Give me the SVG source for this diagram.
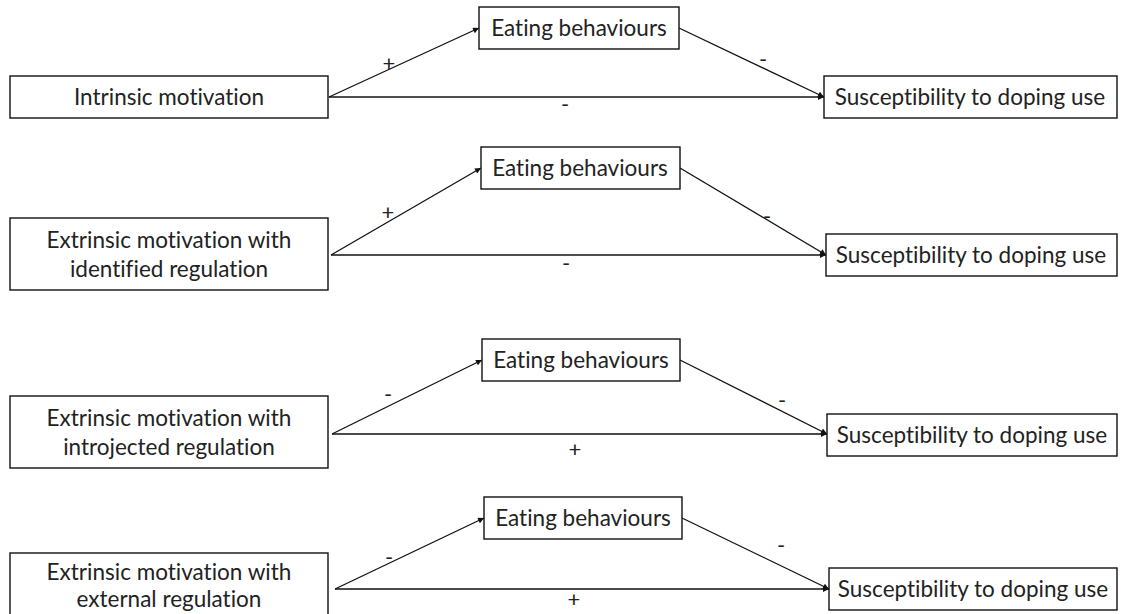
<svg xmlns="http://www.w3.org/2000/svg" width="1121" height="614" viewBox="0 0 1121 614">
<style>
.box{fill:#fff;stroke:#111;stroke-width:1.4}
.t{font-family:Lato,"Liberation Sans",sans-serif;font-size:22.5px;fill:#222;text-anchor:middle;font-variant-ligatures:none}
.lbl{font-family:Lato,"Liberation Sans",sans-serif;font-size:22px;fill:#222;text-anchor:middle}
.c{fill:none;stroke:#111;stroke-width:1.3}
</style>
<defs>
<marker id="ah" viewBox="0 0 10 10" refX="10" refY="5" markerWidth="8" markerHeight="6" markerUnits="userSpaceOnUse" orient="auto">
<path d="M0,0 L10,5 L0,10 z" fill="#111"/>
</marker>
</defs>
<rect width="1121" height="614" fill="#fff"/>
<g id="connectors">
<path class="c" d="M329,97 L479,28" marker-end="url(#ah)"/>
<path class="c" d="M679,28 L824,97" marker-end="url(#ah)"/>
<path class="c" d="M329,97 L824,97" marker-end="url(#ah)"/>
<path class="c" d="M331,255 L481,168" marker-end="url(#ah)"/>
<path class="c" d="M680,168 L826,255" marker-end="url(#ah)"/>
<path class="c" d="M331,255 L826,255" marker-end="url(#ah)"/>
<path class="c" d="M332,434 L482,360" marker-end="url(#ah)"/>
<path class="c" d="M680,360 L827,434" marker-end="url(#ah)"/>
<path class="c" d="M332,434 L827,434" marker-end="url(#ah)"/>
<path class="c" d="M335,589 L484,518" marker-end="url(#ah)"/>
<path class="c" d="M682,518 L829,589" marker-end="url(#ah)"/>
<path class="c" d="M335,589 L829,589" marker-end="url(#ah)"/>
<text class="lbl" x="389" y="71">+</text>
<text class="lbl" x="763" y="67">-</text>
<text class="lbl" x="565" y="112">-</text>
<text class="lbl" x="388" y="220">+</text>
<text class="lbl" x="767" y="224">-</text>
<text class="lbl" x="566" y="271">-</text>
<text class="lbl" x="388" y="402">-</text>
<text class="lbl" x="782" y="408">-</text>
<text class="lbl" x="575" y="457">+</text>
<text class="lbl" x="389" y="565">-</text>
<text class="lbl" x="781" y="553">-</text>
<text class="lbl" x="574" y="607">+</text>
</g>
<g id="im">
<rect class="box" x="10" y="76" width="318" height="42"/>
<text class="t" x="169" y="105">Intrinsic motivation</text>
</g>
<g id="eb1">
<rect class="box" x="479" y="7" width="200" height="42"/>
<text class="t" x="579" y="36">Eating behaviours</text>
</g>
<g id="sd1">
<rect class="box" x="824" y="76" width="293" height="42"/>
<text class="t" x="970" y="105">Susceptibility to doping use</text>
</g>
<g id="ir">
<rect class="box" x="10" y="218" width="318" height="72"/>
<text class="t" x="169" y="248">Extrinsic motivation with</text>
<text class="t" x="169" y="277">identified regulation</text>
</g>
<g id="eb2">
<rect class="box" x="481" y="147" width="199" height="42"/>
<text class="t" x="580" y="176">Eating behaviours</text>
</g>
<g id="sd2">
<rect class="box" x="826" y="234" width="291" height="42"/>
<text class="t" x="971" y="263">Susceptibility to doping use</text>
</g>
<g id="jr">
<rect class="box" x="10" y="396" width="318" height="72"/>
<text class="t" x="169" y="426">Extrinsic motivation with</text>
<text class="t" x="169" y="455">introjected regulation</text>
</g>
<g id="eb3">
<rect class="box" x="482" y="339" width="198" height="42"/>
<text class="t" x="581" y="368">Eating behaviours</text>
</g>
<g id="sd3">
<rect class="box" x="827" y="414" width="290" height="42"/>
<text class="t" x="972" y="443">Susceptibility to doping use</text>
</g>
<g id="er">
<rect class="box" x="10" y="553" width="318" height="72"/>
<text class="t" x="169" y="580">Extrinsic motivation with</text>
<text class="t" x="169" y="607">external regulation</text>
</g>
<g id="eb4">
<rect class="box" x="484" y="497" width="198" height="42"/>
<text class="t" x="583" y="526">Eating behaviours</text>
</g>
<g id="sd4">
<rect class="box" x="829" y="568" width="288" height="42"/>
<text class="t" x="973" y="597">Susceptibility to doping use</text>
</g>
</svg>
